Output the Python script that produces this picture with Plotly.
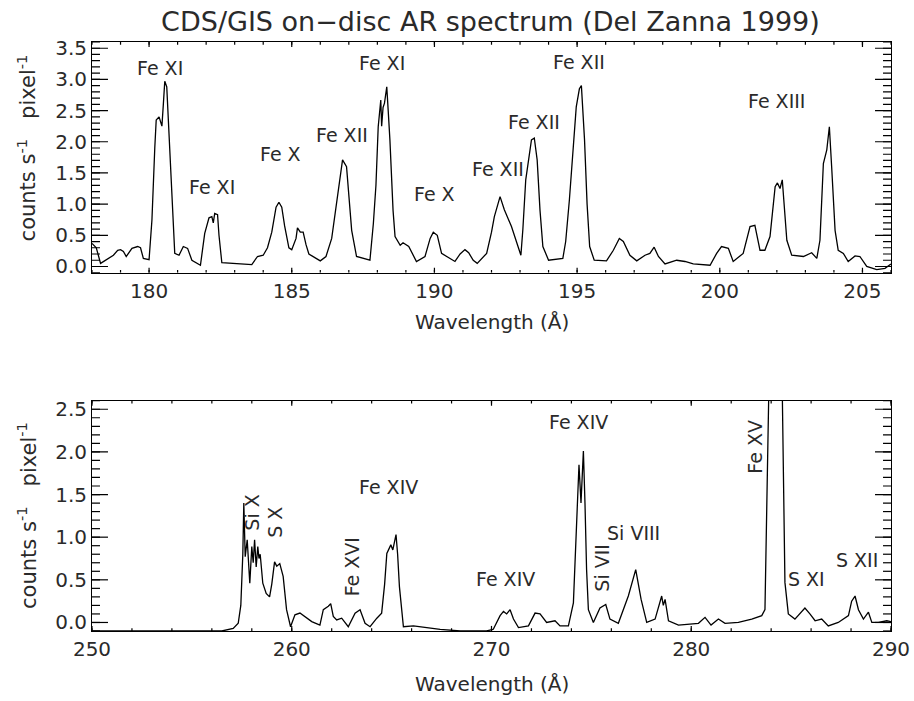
import numpy as np
import plotly.graph_objects as go

# ---------------- data ----------------
wl_top = [178.0, 178.15, 178.3, 178.55, 178.75, 178.9, 179.0, 179.1, 179.2, 179.4, 179.6, 179.7, 179.8, 180.0,
          180.1, 180.2, 180.25, 180.35, 180.45, 180.5, 180.55, 180.62, 180.68, 180.75, 180.85, 180.9, 181.05,
          181.2, 181.35, 181.5, 181.8, 181.95, 182.1, 182.2, 182.25, 182.3, 182.4, 182.45, 182.55, 183.0, 183.6,
          183.8, 184.0, 184.15, 184.3, 184.45, 184.55, 184.65, 184.75, 184.9, 185.0, 185.15, 185.2, 185.3, 185.4,
          185.5, 185.6, 186.0, 186.2, 186.4, 186.55, 186.7, 186.78, 186.92, 187.0, 187.1, 187.27, 187.74, 187.86,
          187.95, 188.03, 188.1, 188.12, 188.15, 188.2, 188.25, 188.33, 188.38, 188.44, 188.55, 188.62, 188.8,
          188.9, 189.1, 189.37, 189.67, 189.85, 189.96, 190.1, 190.25, 190.55, 190.72, 190.9, 191.07, 191.2,
          191.36, 191.5, 191.83, 192.0, 192.1, 192.3, 192.45, 192.7, 192.85, 193.03, 193.1, 193.2, 193.4, 193.5,
          193.6, 193.7, 193.8, 194.0, 194.5, 194.6, 194.73, 194.85, 194.97, 195.08, 195.15, 195.26, 195.35,
          195.44, 195.6, 196.03, 196.27, 196.48, 196.62, 196.85, 197.09, 197.38, 197.55, 197.7, 197.85, 198.08,
          198.49, 198.78, 199.07, 199.66, 199.89, 200.06, 200.3, 200.47, 200.82, 201.06, 201.23, 201.41, 201.58,
          201.76, 201.94, 202.02, 202.11, 202.19, 202.28, 202.35, 202.52, 202.93, 203.22, 203.4, 203.51, 203.63,
          203.75, 203.84, 203.92, 204.04, 204.15, 204.33, 204.5, 204.74, 204.91, 205.15, 205.5, 205.79, 206.0]
cts_top = [0.37, 0.30, 0.05, 0.13, 0.18, 0.26, 0.27, 0.24, 0.16, 0.29, 0.32, 0.30, 0.13, 0.11,
           0.74, 1.90, 2.35, 2.40, 2.25, 2.60, 2.97, 2.88, 2.30, 1.49, 0.50, 0.21, 0.18,
           0.32, 0.29, 0.10, 0.02, 0.53, 0.78, 0.80, 0.70, 0.85, 0.83, 0.50, 0.06, 0.05, 0.03,
           0.16, 0.18, 0.30, 0.55, 0.95, 1.03, 0.95, 0.65, 0.30, 0.27, 0.45, 0.62, 0.55, 0.55,
           0.35, 0.20, 0.09, 0.16, 0.45, 0.96, 1.50, 1.71, 1.60, 1.20, 0.58, 0.16, 0.10, 0.69,
           1.30, 2.24, 2.60, 2.67, 2.25, 2.55, 2.62, 2.88, 2.50, 2.03, 0.90, 0.48, 0.34,
           0.38, 0.32, 0.08, 0.16, 0.45, 0.55, 0.50, 0.21, 0.13, 0.08, 0.20, 0.27, 0.22,
           0.10, 0.05, 0.21, 0.55, 0.80, 1.12, 0.91, 0.64, 0.42, 0.18, 0.60, 1.39, 2.03, 2.06,
           1.71, 0.90, 0.32, 0.10, 0.13, 0.40, 1.07, 1.90, 2.56, 2.85, 2.90, 2.03, 1.00,
           0.32, 0.10, 0.09, 0.26, 0.45, 0.40, 0.18, 0.09, 0.18, 0.21, 0.31, 0.16, 0.04,
           0.10, 0.08, 0.04, 0.02, 0.21, 0.32, 0.29, 0.08, 0.21, 0.64, 0.66, 0.26, 0.26,
           0.48, 1.28, 1.34, 1.25, 1.39, 0.90, 0.42, 0.18, 0.16, 0.22, 0.13, 0.42, 1.65,
           1.87, 2.24, 1.60, 0.58, 0.26, 0.21, 0.08, 0.17, 0.16, 0.00, -0.05, -0.03, 0.04]

wl_bot = [250.0, 256.5, 257.07, 257.32, 257.45, 257.55, 257.6, 257.67, 257.77, 257.85, 257.9, 258.0, 258.07,
          258.14, 258.22, 258.3, 258.36, 258.42, 258.55, 258.72, 258.89, 259.0, 259.14, 259.25, 259.4, 259.57,
          259.74, 259.94, 260.16, 260.41, 260.66, 261.0, 261.41, 261.58, 261.83, 261.95, 262.08, 262.25, 262.5,
          262.83, 263.17, 263.42, 263.67, 263.92, 264.26, 264.5, 264.65, 264.76, 264.96, 265.06, 265.22, 265.3,
          265.39, 265.59, 266.09, 266.76, 267.43, 268.44, 269.75, 270.09, 270.43, 270.6, 270.76, 270.93, 271.1,
          271.35, 271.85, 272.18, 272.43, 272.76, 273.18, 273.43, 273.85, 274.1, 274.26, 274.38, 274.48, 274.6,
          274.68, 274.76, 274.85, 275.1, 275.43, 275.72, 275.93, 276.35, 276.85, 277.22, 277.49, 277.77, 278.19,
          278.44, 278.52, 278.6, 278.69, 278.86, 279.36, 280.36, 280.69, 280.99, 281.36, 281.69, 282.36, 283.03,
          283.53, 283.69, 283.83, 283.95, 284.1, 284.3, 284.45, 284.56, 284.69, 284.86, 285.19, 285.69, 285.94,
          286.2, 286.53, 286.86, 287.36, 287.87, 288.03, 288.2, 288.37, 288.62, 288.87, 289.04, 289.37, 289.79,
          290.0]
cts_bot = [-0.10, -0.10, -0.07, -0.01, 0.20, 0.80, 1.40, 0.77, 0.97, 0.60, 0.46, 0.89, 0.70,
           0.97, 0.65, 0.89, 0.75, 0.80, 0.46, 0.34, 0.30, 0.45, 0.71, 0.66, 0.69, 0.54,
           0.15, -0.05, 0.09, 0.11, 0.07, 0.01, -0.03, 0.15, 0.19, 0.22, 0.07, 0.03, 0.05,
           -0.05, 0.11, 0.15, -0.01, -0.05, 0.05, 0.11, 0.45, 0.81, 0.91, 0.85, 1.03, 0.80,
           0.42, -0.05, -0.04, -0.06, -0.08, -0.10, -0.10, -0.08, 0.08, 0.13, 0.10, 0.15, 0.04,
           -0.06, -0.04, 0.11, 0.10, 0.00, 0.02, -0.04, -0.04, 0.23, 1.17, 1.85, 1.40, 2.01,
           1.40, 0.62, 0.15, 0.00, 0.17, 0.21, 0.04, -0.01, 0.31, 0.62, 0.27, 0.00, 0.04,
           0.23, 0.31, 0.20, 0.27, 0.02, -0.03, -0.01, 0.06, -0.03, 0.04, -0.01, 0.00, 0.04,
           0.08, 0.15, 1.87, 3.60, 4.50, 4.50, 3.60, 2.65, 0.47, 0.10, 0.04, 0.17, 0.10,
           0.02, 0.04, -0.04, 0.00, 0.08, 0.25, 0.31, 0.15, 0.04, 0.12, 0.00, 0.00, 0.02,
           0.01]

# line labels: (text, wavelength, counts, angle)
labels_top = [("Fe XI", 180.38, 3.18, 0), ("Fe XI", 182.19, 1.27, 0), ("Fe X", 184.59, 1.80, 0),
              ("Fe XII", 186.75, 2.11, 0), ("Fe XI", 188.15, 3.27, 0), ("Fe X", 190.0, 1.17, 0),
              ("Fe XII", 192.24, 1.57, 0), ("Fe XII", 193.49, 2.32, 0), ("Fe XII", 195.07, 3.28, 0),
              ("Fe XIII", 201.97, 2.66, 0)]
labels_bot = [("Si X", 258.02, 1.29, -90), ("S X", 259.16, 1.18, -90), ("Fe XVI", 263.03, 0.65, -90),
              ("Fe XIV", 264.83, 1.59, 0), ("Fe XIV", 270.71, 0.51, 0), ("Fe XIV", 274.38, 2.35, 0),
              ("Si VII", 275.52, 0.64, -90), ("Si VIII", 277.13, 1.05, 0), ("Fe XV", 283.19, 2.06, -90),
              ("S XI", 285.78, 0.51, 0), ("S XII", 288.31, 0.73, 0)]

title_text = "CDS/GIS on\u2212disc AR spectrum (Del Zanna 1999)"
xlabel = "Wavelength (\u00c5)"
ylabel = "counts\u00a0s<sup>-1</sup>\u00a0\u00a0\u00a0pixel<sup>-1</sup>"

# axis settings: (range, major step, minor step)
x_top_range, x_top_major, x_top_minor = [178, 206], 5, 1
y_top_range, y_top_major, y_top_minor = [-0.1, 3.6], 0.5, 0.1
x_bot_range, x_bot_major, x_bot_minor = [250, 290], 10, 2
y_bot_range, y_bot_major, y_bot_minor = [-0.1, 2.6], 0.5, 0.1

# ---------------- figure ----------------
FONT = "DejaVu Sans"
TXT = "#2a2a2a"
TOP_DOM = [0.6083, 1.0]
BOT_DOM = [0.0, 0.391]

fig = go.Figure()
fig.add_trace(go.Scatter(x=wl_top, y=cts_top, mode="lines", line=dict(color="black", width=1.3),
                         xaxis="x", yaxis="y", showlegend=False, hoverinfo="skip"))
fig.add_trace(go.Scatter(x=wl_bot, y=cts_bot, mode="lines", line=dict(color="black", width=1.3),
                         xaxis="x2", yaxis="y2", showlegend=False, hoverinfo="skip"))


# IDL-style inward tick marks on all four sides; length is a fraction of the plot size (IDL ticklen 0.02)
def steps(rng, step):
    k0 = int(np.ceil(rng[0] / step - 1e-9))
    k1 = int(np.floor(rng[1] / step + 1e-9))
    return [round(k * step, 6) for k in range(k0, k1 + 1)]


for xr, yr, xa, ya, xmj, xmn, ymj, ymn in [
        (x_top_range, y_top_range, "x", "y", x_top_major, x_top_minor, y_top_major, y_top_minor),
        (x_bot_range, y_bot_range, "x2", "y2", x_bot_major, x_bot_minor, y_bot_major, y_bot_minor)]:
    dx = xr[1] - xr[0]
    dy = yr[1] - yr[0]
    tx, ty = [], []
    for step, frac in ((xmj, 0.022), (xmn, 0.012)):
        for v in steps(xr, step):
            tx += [v, v, None, v, v, None]
            ty += [yr[0], yr[0] + frac * dy, None, yr[1], yr[1] - frac * dy, None]
    for step, frac in ((ymj, 0.02), (ymn, 0.01)):
        for v in steps(yr, step):
            tx += [xr[0], xr[0] + frac * dx, None, xr[1], xr[1] - frac * dx, None]
            ty += [v, v, None, v, v, None]
    fig.add_trace(go.Scatter(x=tx, y=ty, mode="lines", line=dict(color="black", width=1.2),
                             xaxis=xa, yaxis=ya, showlegend=False, hoverinfo="skip",
                             connectgaps=False))

main = dict(showline=True, linecolor="black", linewidth=1, mirror=True, ticks="",
            showgrid=False, zeroline=False, tickfont=dict(family=FONT, size=20, color=TXT))

fig.update_layout(
    template="none", width=914, height=701, paper_bgcolor="white", plot_bgcolor="white",
    margin=dict(l=92, r=23, t=42, b=70), showlegend=False,
    title=dict(text=title_text, x=0.5366, xanchor="center", y=1 - 22 / 701, yanchor="middle",
               font=dict(family=FONT, size=27, color=TXT)),
    xaxis=dict(**main, range=x_top_range, tick0=0, dtick=x_top_major, domain=[0, 1], anchor="y"),
    yaxis=dict(**main, range=y_top_range, tick0=0, dtick=y_top_major, tickformat=".1f",
               domain=TOP_DOM, anchor="x"),
    xaxis2=dict(**main, range=x_bot_range, tick0=0, dtick=x_bot_major, domain=[0, 1], anchor="y2"),
    yaxis2=dict(**main, range=y_bot_range, tick0=0, dtick=y_bot_major, tickformat=".1f",
                domain=BOT_DOM, anchor="x2"),
)

ann = []
for txt, x, y, ang in labels_top:
    ann.append(dict(text=txt, x=x, y=y, xref="x", yref="y", showarrow=False, textangle=ang,
                    font=dict(family=FONT, size=19, color=TXT)))
for txt, x, y, ang in labels_bot:
    ann.append(dict(text=txt, x=x, y=y, xref="x2", yref="y2", showarrow=False, textangle=ang,
                    font=dict(family=FONT, size=19, color=TXT)))
for yy in (0.5246, -0.09):
    ann.append(dict(text=xlabel, x=0.5, y=yy, xref="paper", yref="paper", showarrow=False,
                    xanchor="center", yanchor="middle", font=dict(family=FONT, size=20, color=TXT)))
for yy in (0.821, 0.197):
    ann.append(dict(text=ylabel, x=-0.0814, y=yy, xref="paper", yref="paper", showarrow=False,
                    textangle=-90, xanchor="center", yanchor="middle",
                    font=dict(family=FONT, size=21, color=TXT)))
fig.update_layout(annotations=ann)

fig.write_html("out.html", config={"displayModeBar": False},
               post_script="document.body.style.margin='0';document.body.style.padding='0';")
